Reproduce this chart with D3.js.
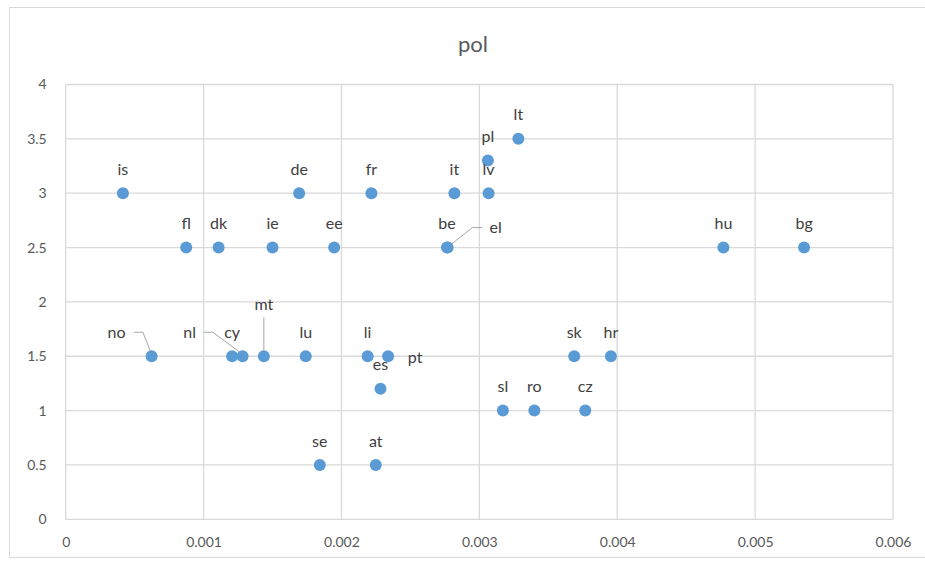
<!DOCTYPE html>
<html>
<head>
<meta charset="utf-8">
<script src="https://cdn.jsdelivr.net/npm/d3@7"></script>
<style>
  body { margin: 0; background: #fff; }
  text { font-family: Lato, "Open Sans", sans-serif; }
</style>
</head>
<body>
<div id="chart"></div>
<script>
// data
var countries = ["is","no","fl","dk","cy","nl","mt","ie","de","lu","se","ee","li","fr","at","es","pt",
                 "be","el","it","pl","lv","sl","lt","ro","sk","cz","hr","hu","bg"];
var xVals = [0.000415,0.000623,0.000874,0.001109,0.001207,0.001283,0.001437,0.0015,0.001693,0.001741,
             0.001843,0.001947,0.00219,0.002217,0.002249,0.002283,0.002338,
             0.002765,0.00277,0.002819,0.003062,0.003067,0.003171,0.003283,0.003399,0.003688,0.003768,
             0.003954,0.00477,0.005355];
var yVals = [3,1.5,2.5,2.5,1.5,1.5,1.5,2.5,3,1.5,0.5,2.5,1.5,3,0.5,1.2,1.5,
             2.5,2.5,3,3.3,3,1,3.5,1,1.5,1,1.5,2.5,2.5];
var xTicks = [0,0.001,0.002,0.003,0.004,0.005,0.006];
var yTicks = [0,0.5,1,1.5,2,2.5,3,3.5,4];
var title = "pol";

// label placement (px from the point) for labels that are not simply above
var labelPlace = {
  no: {dx: -35, dy: -24, leader: [[-17.7,-24],[-8.7,-24],[0,-2]]},
  nl: {dx: -53, dy: -24, leader: [[-38.7,-24],[-29.7,-24],[0,-2]]},
  mt: {dx: 0, dy: -52, leader: [[0,-39],[0,-6]]},
  pt: {dx: 27, dy: 1},
  el: {dx: 48, dy: -20, leader: [[2,-2],[24.7,-20],[34.7,-20]]}
};

var W = 925, H = 561;
var svg = d3.select("#chart").append("svg").attr("width", W).attr("height", H);

// outer frame
svg.append("rect").attr("x", 9.5).attr("y", 7.5).attr("width", 930).attr("height", 550)
  .attr("fill", "none").attr("stroke", "#d9d9d9");

var x = d3.scaleLinear().domain([0, 0.006]).range([65.7, 893]);
var y = d3.scaleLinear().domain([0, 4]).range([519.3, 84.5]);

// gridlines
svg.append("g").selectAll("line").data(yTicks).enter().append("line")
  .attr("x1", x(0)).attr("x2", x(0.006))
  .attr("y1", function(d){return y(d);}).attr("y2", function(d){return y(d);})
  .attr("stroke", "#d9d9d9").attr("stroke-width", 1.3);
svg.append("g").selectAll("line").data(xTicks).enter().append("line")
  .attr("y1", y(0)).attr("y2", y(4))
  .attr("x1", function(d){return x(d);}).attr("x2", function(d){return x(d);})
  .attr("stroke", "#d9d9d9").attr("stroke-width", 1.3);

// axes (labels only, Excel style)
var xAxis = svg.append("g").attr("transform", "translate(0," + y(0) + ")")
  .call(d3.axisBottom(x).tickValues(xTicks).tickSize(0).tickPadding(18)
    .tickFormat(function(d){return d === 0 ? "0" : d3.format(".3f")(d);}));
xAxis.select(".domain").remove();
xAxis.selectAll("text").attr("fill", "#595959").style("font-size", "14px");

var yAxis = svg.append("g").attr("transform", "translate(" + x(0) + ",0)")
  .call(d3.axisLeft(y).tickValues(yTicks).tickSize(0).tickPadding(19)
    .tickFormat(function(d){return String(d);}));
yAxis.select(".domain").remove();
yAxis.selectAll("text").attr("fill", "#595959").style("font-size", "14px");

// title
svg.append("text").attr("x", 473).attr("y", 52).attr("text-anchor", "middle")
  .attr("fill", "#595959").style("font-size", "22px").text(title);

var pts = countries.map(function(c, i){return {name: c, x: xVals[i], y: yVals[i]};});

// leader lines
svg.append("g").selectAll("polyline")
  .data(pts.filter(function(d){return labelPlace[d.name] && labelPlace[d.name].leader;}))
  .enter().append("polyline")
  .attr("points", function(d){
    var px = x(d.x), py = y(d.y);
    return labelPlace[d.name].leader.map(function(p){return (px + p[0]) + "," + (py + p[1]);}).join(" ");
  })
  .attr("fill", "none").attr("stroke", "#a6a6a6").attr("stroke-width", 1);

// markers
svg.append("g").selectAll("circle").data(pts).enter().append("circle")
  .attr("cx", function(d){return x(d.x);})
  .attr("cy", function(d){return y(d.y);})
  .attr("r", 6)
  .attr("fill", "#5b9bd5");

// data labels
svg.append("g").selectAll("text").data(pts).enter().append("text")
  .attr("x", function(d){var p = labelPlace[d.name]; return x(d.x) + (p ? p.dx : 0);})
  .attr("y", function(d){var p = labelPlace[d.name]; return y(d.y) + (p ? p.dy : -24);})
  .attr("dy", "0.35em")
  .attr("text-anchor", "middle")
  .attr("fill", "#404040")
  .style("font-size", "16px")
  .text(function(d){return d.name;});
</script>
</body>
</html>
